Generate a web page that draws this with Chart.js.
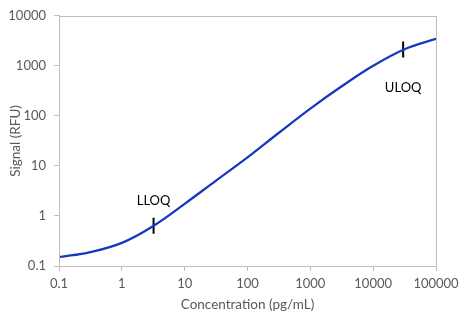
<!DOCTYPE html>
<html>
<head>
<meta charset="utf-8">
<script src="https://cdn.jsdelivr.net/npm/chart.js@4/dist/chart.umd.min.js"></script>
<style>
  html, body { margin: 0; padding: 0; background: #fff; }
  #wrap { width: 466px; height: 325px; }
</style>
</head>
<body>
<div id="wrap"><canvas id="curveChart"></canvas></div>
<script>
// concentration (pg/mL) and signal (RFU)
const concentration = [0.1, 0.316, 1, 3.16, 10, 31.6, 100, 316, 1000, 3162, 10000, 31623, 100000];
const signal = [0.15, 0.19, 0.29, 0.63, 1.75, 5.1, 14.8, 46, 140, 390, 1000, 2150, 3460];

const limitNames = ['LLOQ', 'ULOQ'];
const limitConc = [3.2, 30000];
const limitSignal = [0.64, 2130];

const xTicks = [0.1, 1, 10, 100, 1000, 10000, 100000];
const yTicks = [0.1, 1, 10, 100, 1000, 10000];

const axisGray = '#bfbfbf';
const labelGray = '#595959';
const fontFamily = 'Lato, "Liberation Sans", sans-serif';

// box around the plot area
const frame = {
    id: 'frame',
    afterDraw(chart) {
        const { ctx, chartArea: a } = chart;
        ctx.save();
        ctx.strokeStyle = axisGray;
        ctx.lineWidth = 1;
        ctx.strokeRect(Math.round(a.left) + 0.5, Math.round(a.top) + 0.5,
            Math.round(a.right - a.left), Math.round(a.bottom - a.top));
        ctx.restore();
    }
};

// LLOQ / ULOQ text next to the markers
const limitLabels = {
    id: 'limitLabels',
    afterDatasetsDraw(chart) {
        const { ctx, scales } = chart;
        ctx.save();
        ctx.fillStyle = '#000';
        ctx.font = '13px ' + fontFamily;
        ctx.textAlign = 'center';
        ctx.textBaseline = 'middle';
        limitNames.forEach((name, i) => {
            const px = scales.x.getPixelForValue(limitConc[i]);
            const py = scales.y.getPixelForValue(limitSignal[i]);
            const dy = i === 0 ? -25 : 38;
            ctx.fillText(name, px, py + dy);
        });
        ctx.restore();
    }
};

function tickText(v) {
    return String(v);
}

new Chart(document.getElementById('curveChart'), {
    type: 'line',
    data: {
        datasets: [
            {
                label: 'Standard curve',
                data: concentration.map((c, i) => ({ x: c, y: signal[i] })),
                borderColor: '#1438c4',
                borderWidth: 2.25,
                pointRadius: 0,
                tension: 0.4,
                fill: false
            },
            {
                label: 'Limits',
                data: limitConc.map((c, i) => ({ x: c, y: limitSignal[i] })),
                showLine: false,
                pointStyle: 'line',
                rotation: 90,
                pointRadius: 8,
                pointBorderWidth: 2,
                pointBorderColor: '#000',
                pointBackgroundColor: '#000'
            }
        ]
    },
    options: {
        responsive: true,
        maintainAspectRatio: false,
        animation: false,
        layout: { padding: { left: 0, right: 30, top: 15, bottom: 0 } },
        plugins: {
            legend: { display: false },
            tooltip: { enabled: false }
        },
        scales: {
            x: {
                type: 'logarithmic',
                min: 0.1,
                max: 100000,
                afterBuildTicks: scale => { scale.ticks = xTicks.map(v => ({ value: v })); },
                afterFit: scale => { scale.height = 59; },
                grid: { display: true, drawOnChartArea: false, drawTicks: true, tickLength: 5, color: axisGray },
                border: { display: true, color: axisGray },
                ticks: {
                    autoSkip: false,
                    maxRotation: 0,
                    padding: 5,
                    color: labelGray,
                    font: { family: fontFamily, size: 13 },
                    callback: tickText
                },
                title: {
                    display: true,
                    text: 'Concentration (pg/mL)',
                    color: labelGray,
                    font: { family: fontFamily, size: 13.5 },
                    padding: { top: 0, bottom: 12 }
                }
            },
            y: {
                type: 'logarithmic',
                min: 0.1,
                max: 10000,
                afterBuildTicks: scale => { scale.ticks = yTicks.map(v => ({ value: v })); },
                afterFit: scale => { scale.width = 59; },
                grid: { display: true, drawOnChartArea: false, drawTicks: true, tickLength: 5, color: axisGray },
                border: { display: true, color: axisGray },
                ticks: {
                    autoSkip: false,
                    padding: 8,
                    color: labelGray,
                    font: { family: fontFamily, size: 13 },
                    callback: tickText
                },
                title: {
                    display: true,
                    text: 'Signal (RFU)',
                    color: labelGray,
                    font: { family: fontFamily, size: 13.5 },
                    padding: { top: 8, bottom: 0 }
                }
            }
        }
    },
    plugins: [frame, limitLabels]
});
</script>
</body>
</html>
